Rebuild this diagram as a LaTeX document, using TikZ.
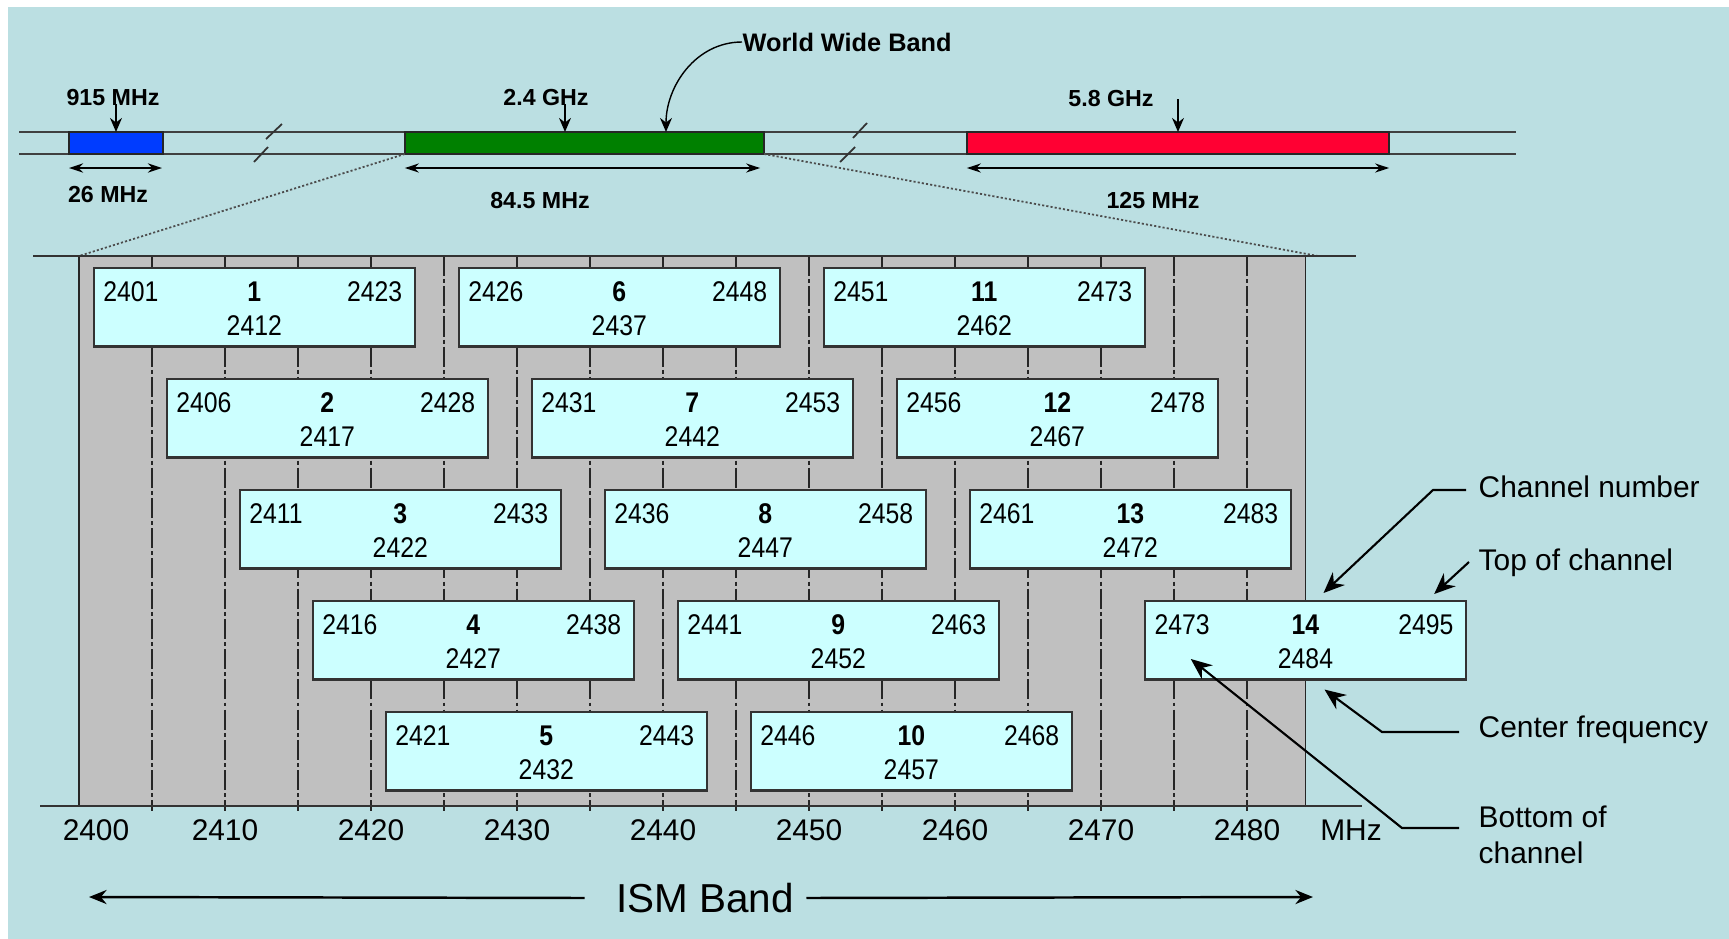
\documentclass[tikz,border=0pt]{standalone}
\usepackage{fontspec}
\setmainfont{Liberation Sans}
\newfontfamily\narrowsf[FakeStretch=0.87]{Liberation Sans}
\usetikzlibrary{arrows.meta,positioning,calc}
\definecolor{bgblue}{RGB}{187,223,226}
\definecolor{chfill}{RGB}{204,255,255}
\definecolor{bandgray}{RGB}{192,192,192}
\definecolor{ismblue}{RGB}{0,60,255}
\definecolor{ismgreen}{RGB}{0,128,0}
\definecolor{ismred}{RGB}{255,0,51}
\tikzset{
  >=stealth,
  rail/.style    ={draw=black!75, line width=0.6pt},
  brk/.style     ={draw=black!80, line width=0.5pt},
  bandbox/.style ={draw=black!85, line width=0.5pt, minimum height=0.22cm, inner sep=0pt, outer sep=0pt},
  toplbl/.style  ={font=\bfseries\fontsize{6.6}{7.9}\selectfont, inner sep=0pt},
  chbox/.style   ={draw=black!80, line width=0.6pt, fill=chfill, minimum width=3.212cm, minimum height=0.785cm, inner sep=0pt, outer sep=0pt, anchor=north west},
  chtxt/.style   ={font=\narrowsf\fontsize{8.1}{9.7}\selectfont, inner sep=0pt},
  chno/.style    ={font=\narrowsf\bfseries\fontsize{8.1}{9.7}\selectfont, inner sep=0pt},
  gridln/.style  ={draw=black!85, line width=0.45pt, dash pattern=on 5.7pt off 0.9pt on 1.1pt off 0.9pt},
  edgeln/.style  ={draw=black!85, line width=0.5pt},
  axisln/.style  ={draw=black!80, line width=0.6pt},
  axlbl/.style   ={font=\fontsize{8.5}{10.2}\selectfont, inner sep=0pt},
  sidelbl/.style ={font=\fontsize{8.5}{10.2}\selectfont, inner sep=0pt, anchor=base west, align=left},
  ismlbl/.style  ={font=\fontsize{11.5}{13.8}\selectfont, inner sep=0pt},
  dnarr/.style   ={-{Stealth[length=4pt,width=3.4pt]}, line width=0.4pt},
  dimarr/.style  ={{Stealth[length=4pt,width=2.6pt]}-{Stealth[length=4pt,width=2.6pt]}, line width=0.6pt},
  zoomln/.style  ={draw=black!70, line width=0.5pt, dash pattern=on 0.6pt off 0.6pt},
  ldarr/.style   ={-{Stealth[length=6pt,width=5pt]}, line width=0.6pt},
  ismarr/.style  ={-{Stealth[length=5pt,width=4pt]}, line width=0.7pt},
}

\begin{document}
\begin{tikzpicture}[x=0.01cm, y=-0.01cm]
  \useasboundingbox (0,0) rectangle (1729,939);
  \fill[white] (0,0) rectangle (1729,939);
  \fill[bgblue] (8,7) rectangle (1729,939);

  % overview of the bands
  \draw[rail] (19,132) -- (1516,132);
  \draw[rail] (19,154) -- (1516,154);
  \draw[brk] (266,139) -- (282,124);
  \draw[brk] (254,162) -- (268,147);
  \draw[brk] (853,138) -- (867,123);
  \draw[brk] (840,162) -- (855,147);
  \node[bandbox, fill=ismblue, minimum width=0.94cm] (bandA) at (116,143) {};
  \node[bandbox, fill=ismgreen, minimum width=3.59cm] (bandB) at (584.5,143) {};
  \node[bandbox, fill=ismred, minimum width=4.22cm] (bandC) at (1178,143) {};

  \node[toplbl] (f915) at (113,98) {915 MHz};
  \node[toplbl] (f24) at (546,98) {2.4 GHz};
  \node[toplbl] (f58) at (1111,99) {5.8 GHz};
  \node[toplbl, font=\bfseries\fontsize{7.2}{8.6}\selectfont, anchor=west] (wwb) at (742,42) {World Wide Band};
  \coordinate (a24) at ($(f24.south)+(19,-3)$);
  \coordinate (wwbtip) at (666,132);
  \draw[dnarr] ($(bandA.north |- f915.south)+(0,-3)$) -- (bandA.north);
  \draw[dnarr] (a24) -- (a24 |- bandB.north);
  \draw[dnarr] (bandC.north |- f58.center) -- (bandC.north);
  \draw[dnarr] (wwb.west) to[out=180, in=90] (wwbtip);

  \draw[dimarr] ($(bandA.south west)+(0,14)$) -- ($(bandA.south east)+(-1,14)$);
  \draw[dimarr] ($(bandB.south west)+(0,14)$) -- ($(bandB.south east)+(-4,14)$);
  \draw[dimarr] ($(bandC.south west)+(0,14)$) -- ($(bandC.south east)+(0,14)$);
  \node[toplbl] (w26) at (108,195) {26 MHz};
  \node[toplbl] (w845) at (540,201) {84.5 MHz};
  \node[toplbl] (w125) at (1153,201) {125 MHz};

  % zoom into the 2.4 GHz band
  \coordinate (zl) at (79,256);
  \coordinate (zr) at (1318,256);
  \draw[zoomln] (bandB.south west) -- (zl);
  \draw[zoomln] (bandB.south east) -- (zr);

  \fill[bandgray] (79,256) rectangle (1305.4,806);
  \foreach \f in {2405,2410,...,2480}
    \draw[gridln] ({79+(\f-2400)*14.6},256) -- ({79+(\f-2400)*14.6},811);
  \draw[edgeln] (79,256) -- (79,806);
  \draw[edgeln] (1305.4,256) -- (1305.4,806);
  \draw[axisln] (33,256) -- (1356,256);
  \draw[axisln] (40,806) -- (1362,806);

  % channels
  \foreach \ch/\lo/\rw in {1/2401/1, 2/2406/2, 3/2411/3, 4/2416/4, 5/2421/5,
                           6/2426/1, 7/2431/2, 8/2436/3, 9/2441/4, 10/2446/5,
                           11/2451/1, 12/2456/2, 13/2461/3, 14/2473/4}{
    \pgfmathtruncatemacro\chtop{\lo+22}
    \pgfmathtruncatemacro\chmid{\lo+11}
    \pgfmathsetmacro\xl{79+(\lo-2400)*14.6}
    \pgfmathsetmacro\yt{268+(\rw-1)*111}
    \node[chbox] (ch\ch) at (\xl,\yt) {};
    \node[chtxt, anchor=west] (lo\ch) at ($(ch\ch.north west)+(9,24)$) {\lo};
    \node[chno] (no\ch) at ($(ch\ch.north)+(0,24)$) {\ch};
    \node[chtxt, anchor=east] (hi\ch) at ($(ch\ch.north east)+(-12,24)$) {\chtop};
    \node[chtxt] (cf\ch) at ($(ch\ch.north)+(0,58)$) {\chmid};
  }

  % frequency axis
  \node[axlbl] (ax2400) at (96,830) {2400};
  \foreach \f in {2410,2420,...,2480}
    \node[axlbl] (ax\f) at ({79+(\f-2400)*14.6},830) {\f};
  \node[axlbl] (axmhz) at (1351,830) {MHz};

  \node[ismlbl] (ism) at (705,898) {ISM Band};
  \coordinate (ismL) at (89,897);
  \coordinate (ismR) at (1313,897);
  \draw[ismarr] ($(ism.west)+(-31,0)$) -- (ismL);
  \draw[ismarr] ($(ism.east)+(12,0)$) -- (ismR);

  % legend for channel 14
  \node[sidelbl] (lblnum) at (1478,497) {Channel number};
  \node[sidelbl] (lbltop) at (1478,570) {Top of channel};
  \node[sidelbl] (lblcf) at (1478,737) {Center frequency};
  \node[sidelbl] (lblbot) at (1478,863) {Bottom of\\channel};
  \coordinate (tipnum) at ($(ch14.north)+(18,-8)$);
  \coordinate (tiptop) at ($(ch14.north east)+(-32,-7)$);
  \coordinate (tipcf) at ($(ch14.south)+(19,10)$);
  \coordinate (tipbot) at ($(ch14.north west)+(46,58)$);
  \draw[ldarr] ($(lblnum.base west)+(-12,-7)$) -- ++(-33,0) -- (tipnum);
  \draw[ldarr] ($(lbltop.base west)+(-9,-8)$) -- (tiptop);
  \draw[ldarr] ($(lblcf.base west)+(-19,-5)$) -- ++(-77,0) -- (tipcf);
  \draw[ldarr] ($(lblbot.base west)+(-19,-35)$) -- ++(-57,0) -- (tipbot);
\end{tikzpicture}
\end{document}
